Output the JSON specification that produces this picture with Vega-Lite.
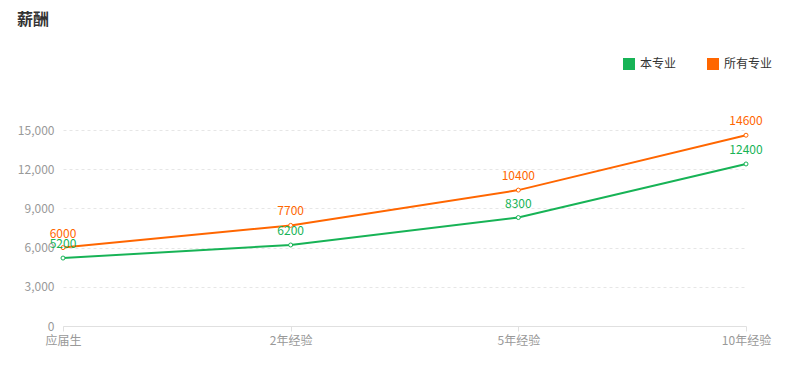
{
  "$schema": "https://vega.github.io/schema/vega-lite/v6.json",
  "width": 683,
  "height": 196,
  "autosize": {"type": "none"},
  "padding": {"left": 63, "top": 130, "right": 46, "bottom": 46},
  "background": "white",
  "title": {
    "text": "薪酬",
    "anchor": "start",
    "frame": "group",
    "dx": -46,
    "offset": 30,
    "fontSize": 16,
    "fontWeight": "bold",
    "color": "#333333",
    "font": "Noto Sans CJK SC"
  },
  "config": {
    "view": {"stroke": null},
    "font": "Noto Sans CJK SC"
  },
  "data": {
    "values": [
      {"stage": "应届生", "series": "本专业", "salary": 5200},
      {"stage": "2年经验", "series": "本专业", "salary": 6200},
      {"stage": "5年经验", "series": "本专业", "salary": 8300},
      {"stage": "10年经验", "series": "本专业", "salary": 12400},
      {"stage": "应届生", "series": "所有专业", "salary": 6000},
      {"stage": "2年经验", "series": "所有专业", "salary": 7700},
      {"stage": "5年经验", "series": "所有专业", "salary": 10400},
      {"stage": "10年经验", "series": "所有专业", "salary": 14600}
    ]
  },
  "encoding": {
    "x": {
      "field": "stage",
      "type": "ordinal",
      "sort": ["应届生", "2年经验", "5年经验", "10年经验"],
      "scale": {"type": "point", "padding": 0},
      "axis": {
        "title": null,
        "labelAngle": 0,
        "labelColor": "#999999",
        "labelFontSize": 12,
        "labelPadding": 4,
        "domainColor": "#e0e0e0",
        "tickColor": "#e0e0e0",
        "tickSize": 5,
        "grid": false
      }
    },
    "y": {
      "field": "salary",
      "type": "quantitative",
      "scale": {"domain": [0, 15000], "nice": false},
      "axis": {
        "title": null,
        "values": [0, 3000, 6000, 9000, 12000, 15000],
        "format": ",d",
        "labelColor": "#999999",
        "labelFontSize": 12,
        "labelPadding": 9,
        "domain": false,
        "ticks": false,
        "grid": true,
        "gridColor": "#e6e6e6",
        "gridDash": [3, 3],
        "gridWidth": 1
      }
    },
    "color": {
      "field": "series",
      "type": "nominal",
      "scale": {"domain": ["本专业", "所有专业"], "range": ["#17b356", "#ff6600"]}
    }
  },
  "layer": [
    {
      "mark": {"type": "line", "strokeWidth": 2},
      "encoding": {
        "color": {
          "field": "series",
          "type": "nominal",
          "scale": {"domain": ["本专业", "所有专业"], "range": ["#17b356", "#ff6600"]},
          "legend": {
            "title": null,
            "orient": "none",
            "legendX": 560,
            "legendY": -72,
            "direction": "horizontal",
            "symbolType": "square",
            "symbolSize": 144,
            "symbolStrokeWidth": 0,
            "labelFontSize": 12,
            "labelColor": "#333333",
            "labelOffset": 5,
            "columnPadding": 30,
            "encode": {
              "symbols": {"update": {"fill": {"scale": "color", "field": "value"}, "fillOpacity": {"value": 1}}}
            }
          }
        }
      }
    },
    {
      "mark": {"type": "point", "shape": "circle", "filled": true, "fill": "white", "size": 16, "strokeWidth": 1, "opacity": 1},
      "encoding": {
        "stroke": {"field": "series", "type": "nominal", "scale": {"domain": ["本专业", "所有专业"], "range": ["#17b356", "#ff6600"]}, "legend": null}
      }
    },
    {
      "mark": {"type": "text", "dy": -14, "fontSize": 12},
      "encoding": {
        "text": {"field": "salary", "type": "quantitative", "format": "d"}
      }
    }
  ]
}
